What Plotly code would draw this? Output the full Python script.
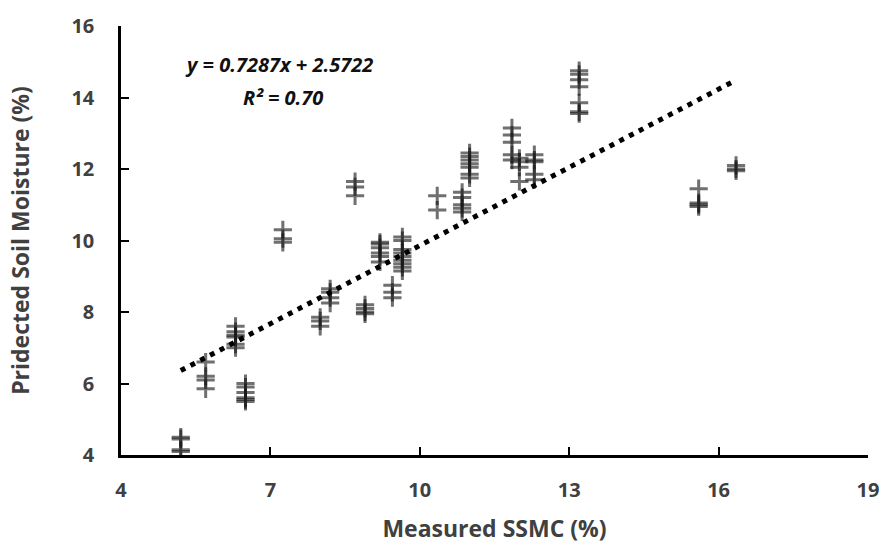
import plotly.graph_objects as go

# Measured SSMC (%) clusters and predicted soil moisture (%) values
measured = (
    [5.2] * 4 + [5.7] * 4 + [6.3] * 6 + [6.5] * 6 + [7.25] * 3 + [8.0] * 3 +
    [8.2] * 4 + [8.7] * 3 + [8.9] * 4 + [9.2] * 6 + [9.45] * 3 + [9.65] * 9 +
    [10.35] * 2 + [10.85] * 5 + [11.0] * 7 + [11.85] * 5 + [12.0] * 4 +
    [12.3] * 5 + [13.2] * 7 + [15.6] * 4 + [16.35] * 3
)
predicted = (
    [4.5, 4.45, 4.15, 4.1] +
    [6.6, 6.2, 6.1, 5.85] +
    [7.6, 7.45, 7.35, 7.3, 7.1, 7.0] +
    [6.0, 5.9, 5.75, 5.6, 5.55, 5.5] +
    [10.3, 10.05, 9.95] +
    [7.85, 7.75, 7.6] +
    [8.65, 8.55, 8.4, 8.25] +
    [11.65, 11.5, 11.25] +
    [8.2, 8.1, 8.0, 7.95] +
    [9.95, 9.9, 9.8, 9.65, 9.55, 9.4] +
    [8.75, 8.55, 8.4] +
    [10.1, 10.0, 9.75, 9.65, 9.55, 9.45, 9.35, 9.25, 9.15] +
    [11.25, 10.85] +
    [11.35, 11.2, 11.0, 10.9, 10.8] +
    [12.45, 12.35, 12.25, 12.15, 12.05, 11.85, 11.75] +
    [13.15, 12.95, 12.75, 12.4, 12.25] +
    [12.3, 12.2, 12.05, 11.65] +
    [12.4, 12.25, 12.2, 11.85, 11.7] +
    [14.75, 14.65, 14.5, 14.3, 13.85, 13.6, 13.55] +
    [11.45, 11.05, 11.0, 10.95] +
    [12.1, 12.0, 11.95]
)

slope = 0.7287
intercept = 2.5722
trend_x = [5.2, 16.35]
trend_y = [slope * x + intercept for x in trend_x]

x_ticks = [4, 7, 10, 13, 16, 19]
y_ticks = [4, 6, 8, 10, 12, 14, 16]

FONT = "'Open Sans', sans-serif"

fig = go.Figure()
fig.add_trace(go.Scatter(
    x=measured, y=predicted, mode="markers",
    marker=dict(symbol="cross-thin", size=13,
                line=dict(color="rgba(25,25,25,0.62)", width=3)),
    showlegend=False, hoverinfo="x+y",
))
fig.add_trace(go.Scatter(
    x=trend_x, y=trend_y, mode="lines",
    line=dict(color="black", width=5, dash="5px,6px"),
    showlegend=False, hoverinfo="skip",
))

fig.add_annotation(
    x=7.18, y=14.93, xref="x", yref="y",
    text="<b><i>y = 0.7287x + 2.5722</i></b>",
    showarrow=False, align="center",
    font=dict(family=FONT, size=20, color="#111111"),
)
fig.add_annotation(
    x=7.25, y=13.99, xref="x", yref="y",
    text="<b><i>R² = 0.70</i></b>",
    showarrow=False, align="center",
    font=dict(family=FONT, size=20, color="#111111"),
)

axis_common = dict(
    showgrid=False, zeroline=False, showline=True, linecolor="black", linewidth=2.5,
    ticks="inside", ticklen=8, tickwidth=2, tickcolor="black",
    tickfont=dict(family=FONT, size=20, color="#404040"),
)

fig.update_xaxes(
    range=[4, 19], tickvals=x_ticks, ticktext=["<b>%d</b>" % v for v in x_ticks],
    title=dict(text="<b>Measured SSMC (%)</b>", standoff=20,
               font=dict(family=FONT, size=23, color="#404040")),
    ticklabelstandoff=15, **axis_common,
)
fig.update_yaxes(
    range=[4, 16], tickvals=y_ticks, ticktext=["<b>%d</b>" % v for v in y_ticks],
    title=dict(text="<b>Pridected Soil Moisture (%)</b>", standoff=36,
               font=dict(family=FONT, size=23, color="#404040")),
    ticklabelstandoff=20, **axis_common,
)

fig.update_layout(
    width=891, height=551,
    margin=dict(l=121, r=15, t=25, b=89),
    plot_bgcolor="white", paper_bgcolor="white",
)

fig.write_html("out.html")
